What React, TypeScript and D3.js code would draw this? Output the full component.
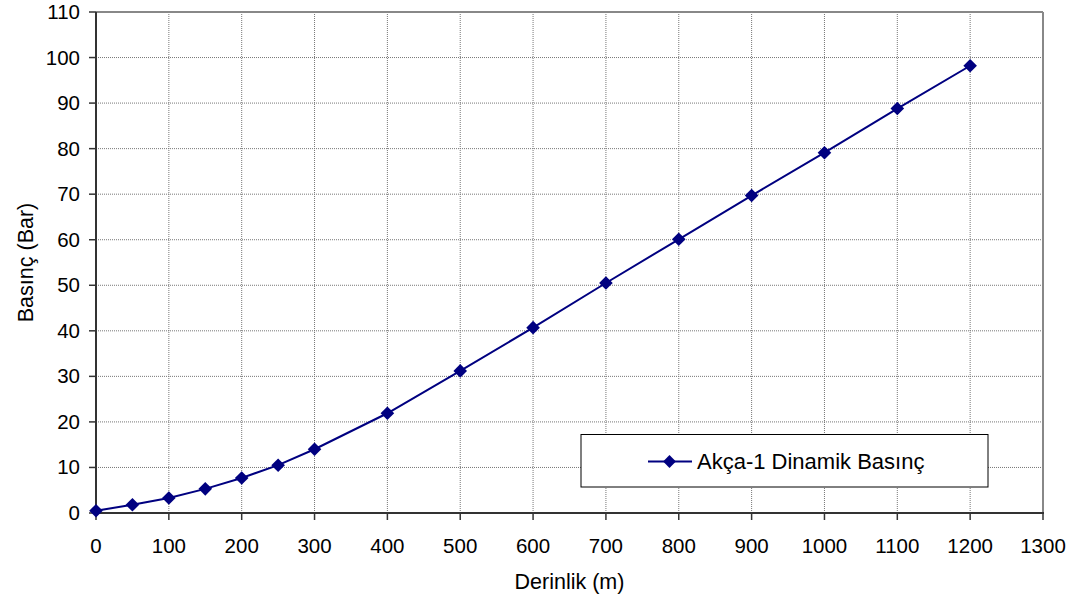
import React from "react";
import * as d3 from "d3";

const depths = [0, 50, 100, 150, 200, 250, 300, 400, 500, 600, 700, 800, 900, 1000, 1100, 1200];
const pressures = [0.5, 1.8, 3.3, 5.3, 7.7, 10.5, 14.0, 21.9, 31.2, 40.7, 50.5, 60.1, 69.7, 79.1, 88.8, 98.2];
const xTicks = [0, 100, 200, 300, 400, 500, 600, 700, 800, 900, 1000, 1100, 1200, 1300];
const yTicks = [0, 10, 20, 30, 40, 50, 60, 70, 80, 90, 100, 110];
const seriesName = "Akça-1 Dinamik Basınç";
const xTitle = "Derinlik (m)";
const yTitle = "Basınç (Bar)";

const W = 1079, H = 601;
const L = 96, R = 1043, T = 12, B = 513;
const FONT = "'Liberation Sans', Arial, sans-serif";
const COLOR = "#000080";

function Diamond({ x, y, r }: { x: number; y: number; r: number }) {
  return <path d={`M${x},${y - r}L${x + r},${y}L${x},${y + r}L${x - r},${y}Z`} fill={COLOR} />;
}

export default function App() {
  const x = d3.scaleLinear().domain([0, 1300]).range([L, R]);
  const y = d3.scaleLinear().domain([0, 110]).range([B, T]);
  const line = d3.line<number>().x((_, i) => x(depths[i])).y((d) => y(d));
  return (
    <svg width={W} height={H} style={{ position: "absolute", left: 0, top: 0, background: "#fff" }} fontFamily={FONT}>
      <rect x={0} y={0} width={W} height={H} fill="#fff" />
      {xTicks.map((t) => (
        <line key={"gx" + t} x1={x(t)} x2={x(t)} y1={T} y2={B} stroke="#777" strokeWidth={1} strokeDasharray="1,1" />
      ))}
      {yTicks.map((t) => (
        <line key={"gy" + t} x1={L} x2={R} y1={y(t)} y2={y(t)} stroke="#777" strokeWidth={1} strokeDasharray="1,1" />
      ))}
      <line x1={L} x2={R} y1={T} y2={T} stroke="#888" strokeWidth={2} />
      <line x1={R} x2={R} y1={T} y2={B} stroke="#888" strokeWidth={2} />
      <line x1={L} x2={L} y1={T} y2={B + 1} stroke="#333" strokeWidth={2} />
      <line x1={L - 1} x2={R + 1} y1={B} y2={B} stroke="#333" strokeWidth={2} />
      {xTicks.map((t) => (
        <g key={"xt" + t}>
          <line x1={x(t)} x2={x(t)} y1={B} y2={B + 7} stroke="#333" strokeWidth={1.5} />
          <text x={x(t)} y={553} textAnchor="middle" fontSize={20.5} fill="#000">{t}</text>
        </g>
      ))}
      {yTicks.map((t) => (
        <g key={"yt" + t}>
          <line x1={L - 7} x2={L} y1={y(t)} y2={y(t)} stroke="#333" strokeWidth={1.5} />
          <text x={80} y={y(t) + 7} textAnchor="end" fontSize={20.5} fill="#000">{t}</text>
        </g>
      ))}
      <text x={(L + R) / 2} y={589} textAnchor="middle" fontSize={21.5} fill="#000">{xTitle}</text>
      <text transform={`translate(33,${(T + B) / 2}) rotate(-90)`} textAnchor="middle" fontSize={21.5} fill="#000">{yTitle}</text>
      <path d={line(pressures) || ""} fill="none" stroke={COLOR} strokeWidth={2} />
      {pressures.map((p, i) => (
        <Diamond key={i} x={x(depths[i])} y={y(p)} r={6.8} />
      ))}
      <rect x={581} y={434.5} width={407} height={52.5} fill="#fff" stroke="#000" strokeWidth={1} />
      <line x1={648} x2={692} y1={461.5} y2={461.5} stroke={COLOR} strokeWidth={2} />
      <Diamond x={669.5} y={461.5} r={6.4} />
      <text x={697} y={469} fontSize={22} fill="#000">{seriesName}</text>
    </svg>
  );
}
